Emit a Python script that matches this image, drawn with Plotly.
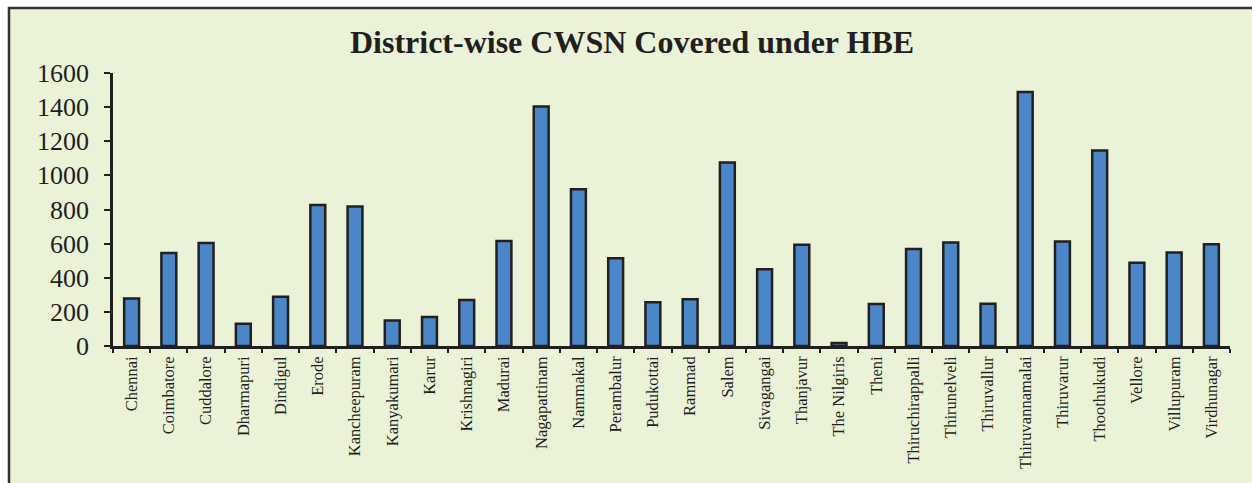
import plotly.graph_objects as go

districts = ["Chennai", "Coimbatore", "Cuddalore", "Dharmapuri", "Dindigul", "Erode",
             "Kancheepuram", "Kanyakumari", "Karur", "Krishnagiri", "Madurai",
             "Nagapattinam", "Nammakal", "Perambalur", "Pudukottai", "Rammad", "Salem",
             "Sivagangai", "Thanjavur", "The Nilgiris", "Theni", "Thiruchirappalli",
             "Thirunelveli", "Thiruvallur", "Thiruvannamalai", "Thiruvarur",
             "Thoothukudi", "Vellore", "Villupuram", "Virdhunagar"]
cwsn_covered = [278, 545, 604, 130, 288, 826, 818, 150, 170, 270, 615,
                1403, 918, 515, 256, 274, 1075, 450, 593, 18, 246, 568,
                606, 248, 1488, 613, 1146, 488, 548, 597]
y_ticks = [0, 200, 400, 600, 800, 1000, 1200, 1400, 1600]

title_text = "District-wise CWSN Covered under HBE"

BG = "#EAF2D7"
DARK = "#231F20"
BAR = "#4A86C8"
FONT = "Liberation Serif, Times New Roman, serif"

W, H = 1252, 483
ml, mr, mt, mb = 113, 22, 73, 137
pw, ph = W - ml - mr, H - mt - mb

fig = go.Figure(go.Bar(
    x=districts, y=cwsn_covered,
    marker=dict(color=BAR, line=dict(color=DARK, width=2.5)),
))

# outer framed panel
fig.add_shape(type="rect", xref="paper", yref="paper", layer="below",
              x0=(9 - ml) / pw, x1=(W + 20 - ml) / pw,
              y0=-(H + 20 - (H - mb)) / ph, y1=((H - mb) - 8) / ph,
              fillcolor=BG, line=dict(color="#333333", width=2.5))

fig.update_layout(
    width=W, height=H,
    margin=dict(l=ml, r=mr, t=mt, b=mb),
    paper_bgcolor="white",
    plot_bgcolor="rgba(0,0,0,0)",
    bargap=0.6,
    showlegend=False,
    font=dict(family=FONT, color=DARK),
    title=dict(text="<b>" + title_text + "</b>", xref="container", yref="container",
               x=632 / W, y=1 - 42 / H, xanchor="center", yanchor="middle",
               font=dict(family=FONT, size=32, color=DARK)),
    xaxis=dict(
        type="category", showgrid=False, showline=True, linecolor=DARK, linewidth=2.5,
        ticks="outside", tickson="boundaries", ticklen=4, tickwidth=2, tickcolor=DARK,
        tickangle=-90, tickfont=dict(family=FONT, size=16.5, color=DARK),
        ticklabelstandoff=1,
    ),
    yaxis=dict(
        range=[0, 1600], tickvals=y_ticks, showgrid=False, zeroline=False,
        showline=True, linecolor=DARK, linewidth=2.5,
        ticks="outside", ticklen=6, tickwidth=2, tickcolor=DARK,
        tickfont=dict(family=FONT, size=26, color=DARK), ticklabelstandoff=10,
    ),
)

fig.write_html("out.html")
